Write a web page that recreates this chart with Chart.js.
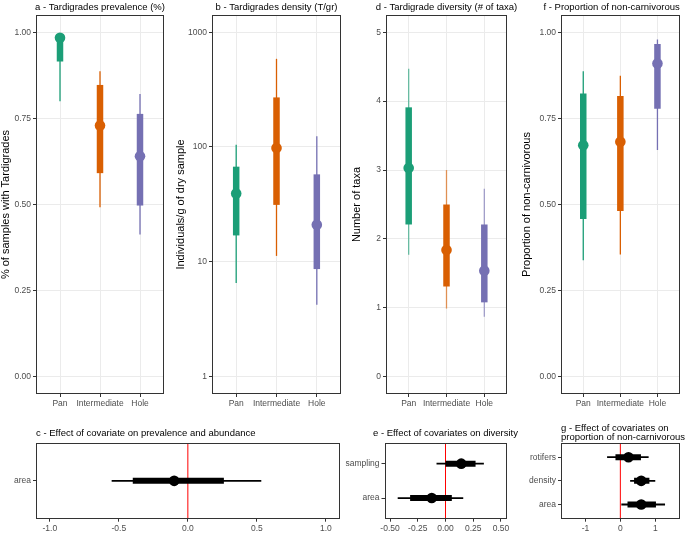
<!DOCTYPE html>
<html>
<head>
<meta charset="utf-8">
<script src="https://cdn.jsdelivr.net/npm/chart.js@4.4.1/dist/chart.umd.min.js"></script>
<style>
html,body{margin:0;padding:0;background:#fff;}
#wrap{position:relative;width:685px;height:533px;overflow:hidden;}
canvas{position:absolute;}
</style>
</head>
<body>
<div id="wrap">
  <canvas id="pa"></canvas>
  <canvas id="pb"></canvas>
  <canvas id="pd"></canvas>
  <canvas id="pf"></canvas>
  <canvas id="pc"></canvas>
  <canvas id="pe"></canvas>
  <canvas id="pg"></canvas>
</div>
<script>
// ─── DATA ───
const habitats = ['Pan', 'Intermediate', 'Hole'];
const habitatColors = ['#1B9E77', '#D95F02', '#7570B3'];

// a - prevalence
const prevMedian = [0.984, 0.729, 0.640];
const prevInner  = [[0.915, 0.990], [0.591, 0.847], [0.497, 0.763]];
const prevOuter  = [[0.800, 0.998], [0.492, 0.887], [0.413, 0.821]];
const propTicks  = [0, 0.25, 0.5, 0.75, 1];

// b - density (log)
const densMedian = [39.2, 97.7, 20.9];
const densInner  = [[16.9, 67.2], [31.2, 270], [8.6, 57.6]];
const densOuter  = [[6.5, 104.5], [11.2, 586], [4.2, 124]];
const densTicks  = [1, 10, 100, 1000];

// d - diversity
const divMedian = [3.03, 1.84, 1.54];
const divInner  = [[2.21, 3.91], [1.31, 2.50], [1.08, 2.21]];
const divOuter  = [[1.77, 4.47], [0.99, 3.00], [0.87, 2.73]];
const divTicks  = [0, 1, 2, 3, 4, 5];

// f - non-carnivorous
const ncMedian = [0.672, 0.682, 0.909];
const ncInner  = [[0.458, 0.822], [0.481, 0.815], [0.778, 0.966]];
const ncOuter  = [[0.338, 0.887], [0.355, 0.874], [0.658, 0.979]];

// c - covariate on prevalence/abundance
const cRows   = ['area'];
const cMedian = [-0.099];
const cInner  = [[-0.399, 0.261]];
const cOuter  = [[-0.552, 0.532]];
const cTicks  = [-1, -0.5, 0, 0.5, 1];

// e - covariates on diversity (bottom to top)
const eRows   = ['area', 'sampling'];
const eMedian = [-0.124, 0.142];
const eInner  = [[-0.319, 0.057], [0.0, 0.271]];
const eOuter  = [[-0.431, 0.160], [-0.081, 0.346]];
const eTicks  = [-0.5, -0.25, 0, 0.25, 0.5];

// g - covariates on non-carnivorous (bottom to top)
const gRows   = ['area', 'density', 'rotifers'];
const gMedian = [0.598, 0.598, 0.233];
const gInner  = [[0.205, 1.02], [0.393, 0.832], [-0.14, 0.59]];
const gOuter  = [[0.028, 1.28], [0.28, 1.0], [-0.38, 0.81]];
const gTicks  = [-1, 0, 1];

const refLine = 0;

// ─── STYLE ───
const FONT = '"Liberation Sans", Arial, Helvetica, sans-serif';
const INK = '#4D4D4D', FRAME = '#333333', GRID = '#EBEBEB';

const framePlugin = {
  id: 'frame',
  afterDatasetsDraw(chart) {
    const {ctx, chartArea: a} = chart;
    ctx.save();
    ctx.strokeStyle = FRAME;
    ctx.lineWidth = 1;
    const l = Math.round(a.left), t = Math.round(a.top);
    ctx.strokeRect(l + 0.5, t + 0.5, Math.round(a.right) - l - 1, Math.round(a.bottom) - t - 1);
    ctx.restore();
  }
};

// panel title, drawn at full width (the built-in title squeezes long text)
const panelTitle = {
  id: 'panelTitle',
  afterDraw(chart, args, opts) {
    const {ctx, chartArea: a} = chart;
    const lines = [].concat(opts.text);
    const al = opts.align || 'center';
    ctx.save();
    ctx.fillStyle = '#000';
    ctx.font = `9.5px ${FONT}`;
    ctx.textBaseline = 'middle';
    ctx.textAlign = al === 'start' ? 'left' : al === 'end' ? 'right' : 'center';
    const x = al === 'start' ? a.left : al === 'end' ? a.right : (a.left + a.right) / 2;
    lines.forEach((t, i) => ctx.fillText(t, x, opts.y + i * (opts.lh || 0)));
    ctx.restore();
  }
};

function intervals(ranges, colors, width, order, horiz) {
  return ranges.map(([lo, hi], i) => ({
    data: horiz ? [{x: lo, y: i + 1}, {x: hi, y: i + 1}] : [{x: i + 1, y: lo}, {x: i + 1, y: hi}],
    showLine: true, borderColor: colors[i], borderWidth: width, borderCapStyle: 'butt',
    pointRadius: 0, order
  }));
}

function place(id, box) {
  const el = document.getElementById(id);
  el.style.left = box[0] + 'px';
  el.style.top = box[1] + 'px';
  el.width = box[2];
  el.height = box[3];
  return el;
}

function tickFont() { return {family: FONT, size: 8.5}; }

function groupPanel(id, cfg) {
  const el = place(id, cfg.box);
  const thin = habitatColors.map(c => cfg.fade ? c + 'A6' : c);
  new Chart(el, {
    type: 'scatter',
    data: {datasets: [
      {data: cfg.median.map((v, i) => ({x: i + 1, y: v})), pointRadius: 5.3,
       pointBackgroundColor: habitatColors, pointBorderWidth: 0, order: 0},
      ...intervals(cfg.inner, habitatColors, 6.5, 1),
      ...intervals(cfg.outer, thin, 1.3, 2)
    ]},
    options: {
      responsive: false, animation: false, events: [],
      layout: {padding: {left: 0, right: cfg.padR, top: 15, bottom: 0}},
      plugins: {
        legend: {display: false}, tooltip: {enabled: false}, title: {display: false},
        panelTitle: {text: cfg.title, align: cfg.align || 'center', y: 7}
      },
      scales: {
        x: {type: 'linear', min: 0.4, max: 3.6,
            afterBuildTicks: s => { s.ticks = habitats.map((h, i) => ({value: i + 1})); },
            afterFit: s => { s.height = 21; },
            ticks: {callback: v => habitats[v - 1], color: INK, font: tickFont(), padding: 2,
                    maxRotation: 0, autoSkip: false},
            grid: {color: GRID, tickColor: FRAME, tickLength: 3},
            border: {display: false}},
        y: {type: cfg.log ? 'logarithmic' : 'linear', min: cfg.min, max: cfg.max,
            afterBuildTicks: s => { s.ticks = cfg.ticks.map(v => ({value: v})); },
            afterFit: s => { s.width = cfg.yW; },
            ticks: {callback: v => cfg.fmt(v), color: INK, font: tickFont(), padding: 2, autoSkip: false},
            grid: {color: GRID, tickColor: FRAME, tickLength: 3},
            border: {display: false},
            title: {display: true, text: cfg.ytitle, color: '#000',
                    font: {family: FONT, size: 11, lineHeight: 1}, padding: 0}}
      }
    },
    plugins: [framePlugin, panelTitle]
  });
}

function effectPanel(id, cfg) {
  const el = place(id, cfg.box);
  const n = cfg.rows.length;
  const black = cfg.rows.map(() => '#000');
  new Chart(el, {
    type: 'scatter',
    data: {datasets: [
      {data: cfg.median.map((v, i) => ({x: v, y: i + 1})), pointRadius: 5.3,
       pointBackgroundColor: '#000', pointBorderWidth: 0, order: 0},
      ...intervals(cfg.inner, black, 6, 1, true),
      ...intervals(cfg.outer, black, 1.8, 2, true),
      {data: [{x: refLine, y: 0.4}, {x: refLine, y: n + 0.6}], showLine: true,
       borderColor: '#FF0000', borderWidth: 1, pointRadius: 0, order: 3}
    ]},
    options: {
      responsive: false, animation: false, events: [],
      layout: {padding: {left: 0, right: cfg.padR, top: 23, bottom: 0}},
      plugins: {
        legend: {display: false}, tooltip: {enabled: false}, title: {display: false},
        panelTitle: {text: cfg.title, align: cfg.align, y: cfg.ty, lh: 8.7}
      },
      scales: {
        x: {type: 'linear', min: cfg.min, max: cfg.max,
            afterBuildTicks: s => { s.ticks = cfg.ticks.map(v => ({value: v})); },
            afterFit: s => { s.height = 14.3; },
            ticks: {callback: v => cfg.fmt(v), color: INK, font: tickFont(), padding: 1.5,
                    maxRotation: 0, autoSkip: false},
            grid: {drawOnChartArea: false, tickColor: FRAME, tickLength: 3},
            border: {display: false}},
        y: {type: 'linear', min: 0.4, max: n + 0.6,
            afterBuildTicks: s => { s.ticks = cfg.rows.map((r, i) => ({value: i + 1})); },
            afterFit: s => { s.width = cfg.yW; },
            ticks: {callback: v => cfg.rows[v - 1], color: INK, font: tickFont(), padding: 2, autoSkip: false},
            grid: {drawOnChartArea: false, tickColor: FRAME, tickLength: 3},
            border: {display: false}}
      }
    },
    plugins: [framePlugin, panelTitle]
  });
}

const fmt2 = v => v.toFixed(2);

groupPanel('pa', {box: [0, 0, 170, 415], yW: 36, padR: 6,
  title: 'a - Tardigrades prevalence (%)', ytitle: '% of samples with Tardigrades',
  median: prevMedian, inner: prevInner, outer: prevOuter,
  min: -0.05, max: 1.05, ticks: propTicks, fmt: fmt2});

groupPanel('pb', {box: [175, 0, 172, 415], yW: 37, padR: 6, log: true,
  title: 'b - Tardigrades density (T/gr)', ytitle: 'Individuals/g of dry sample',
  median: densMedian, inner: densInner, outer: densOuter,
  min: Math.pow(10, -0.15), max: Math.pow(10, 3.15), ticks: densTicks, fmt: v => String(v)});

groupPanel('pd', {box: [351, 0, 169, 415], yW: 35, padR: 13, fade: true,
  title: 'd - Tardigrade diversity (# of taxa)', ytitle: 'Number of taxa',
  median: divMedian, inner: divInner, outer: divOuter,
  min: -0.25, max: 5.25, ticks: divTicks, fmt: v => String(v)});

groupPanel('pf', {box: [521, 0, 164, 415], yW: 40, padR: 3, align: 'end',
  title: 'f - Proportion of non-carnivorous', ytitle: 'Proportion of non-carnivorous',
  median: ncMedian, inner: ncInner, outer: ncOuter,
  min: -0.05, max: 1.05, ticks: propTicks, fmt: fmt2});

effectPanel('pc', {box: [0, 420, 345, 113], yW: 36, padR: 4, align: 'start', ty: 13.3,
  title: 'c - Effect of covariate on prevalence and abundance',
  rows: cRows, median: cMedian, inner: cInner, outer: cOuter,
  min: -1.1, max: 1.1, ticks: cTicks, fmt: v => v.toFixed(1)});

effectPanel('pe', {box: [345, 420, 175, 113], yW: 39.5, padR: 13.5, align: 'center', ty: 13.3,
  title: 'e - Effect of covariates on diversity',
  rows: eRows, median: eMedian, inner: eInner, outer: eOuter,
  min: -0.55, max: 0.55, ticks: eTicks, fmt: fmt2});

effectPanel('pg', {box: [521, 420, 164, 113], yW: 40, padR: 3, align: 'start', ty: 8.3,
  title: ['g - Effect of covariates on', 'proportion of non-carnivorous'],
  rows: gRows, median: gMedian, inner: gInner, outer: gOuter,
  min: -1.7, max: 1.7, ticks: gTicks, fmt: v => String(v)});
</script>
</body>
</html>
